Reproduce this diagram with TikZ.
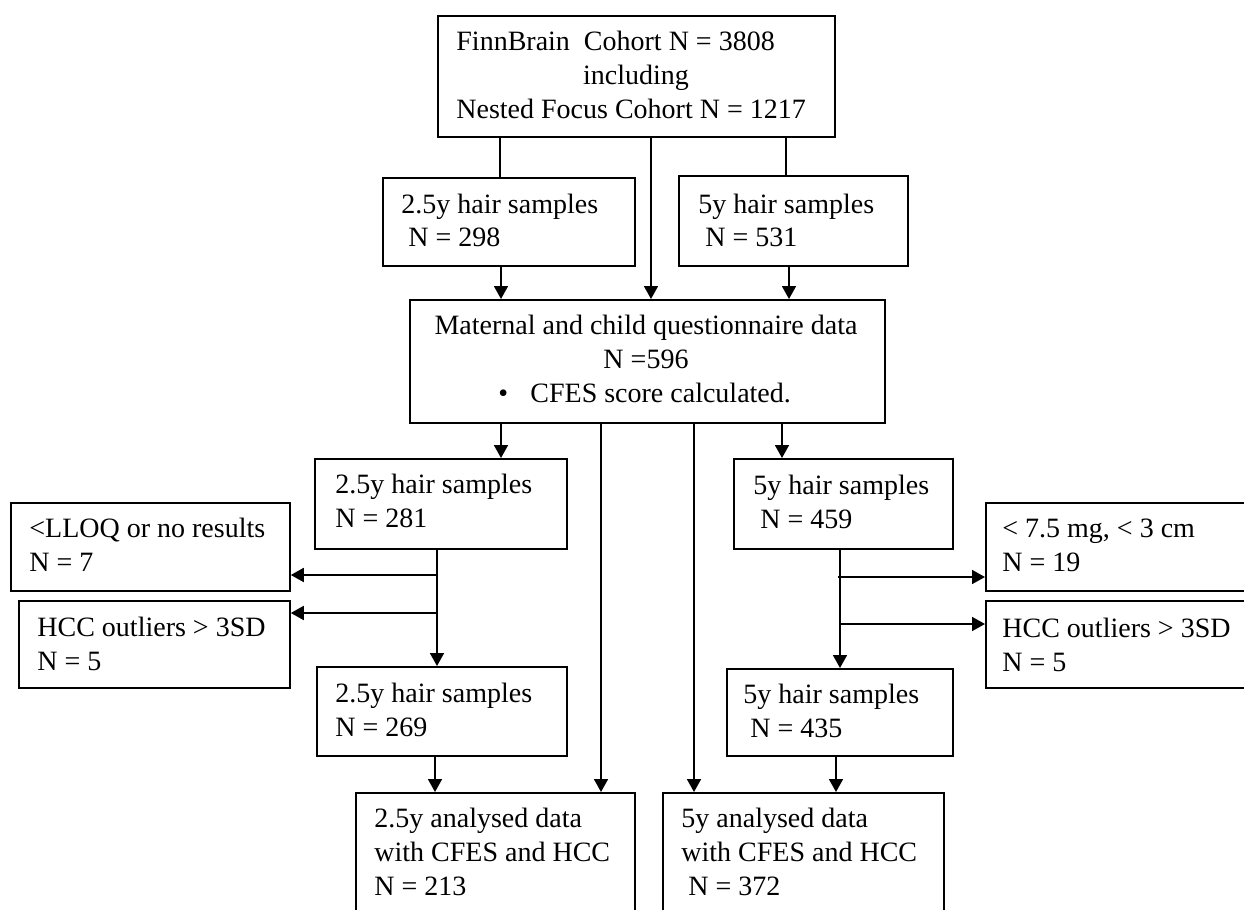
\documentclass[tikz,border=0pt]{standalone}
\usepackage{fontspec}
\setmainfont{Liberation Serif}
\usetikzlibrary{arrows.meta}
\begin{document}
\begin{tikzpicture}[x=0.5pt,y=-0.5pt,
  box/.style={draw, line width=0.9pt, rectangle, inner sep=0pt, anchor=north west},
  txt/.style={inner sep=0pt, anchor=base west, font=\fontsize{14pt}{17pt}\selectfont},
  ln/.style={line width=0.9pt},
  arr/.style={line width=0.9pt, -{Triangle[length=6.5pt,width=7pt]}}]
\useasboundingbox (0,0) rectangle (1244,910);
\clip (0,0) rectangle (1244,910);
% boxes
\node[box, minimum width=198.5pt, minimum height=60.5pt] (top)  at (437,15)  {};
\node[box, minimum width=126pt,   minimum height=44pt]   (h298) at (382,177) {};
\node[box, minimum width=114.5pt, minimum height=45pt]   (h531) at (678,175) {};
\node[box, minimum width=237.5pt, minimum height=61.5pt] (mat)  at (409,299) {};
\node[box, minimum width=126pt,   minimum height=45pt]   (h281) at (314,458) {};
\node[box, minimum width=139.5pt, minimum height=44pt]   (lloq) at (10,502)  {};
\node[box, minimum width=135.5pt, minimum height=43.5pt] (hccL) at (18,600)  {};
\node[box, minimum width=125pt,   minimum height=44.5pt] (h269) at (316,666) {};
\node[box, minimum width=139.5pt, minimum height=70pt]   (an25) at (355,792) {};
\node[box, minimum width=109.5pt, minimum height=45pt]   (h459) at (733,458) {};
\node[box, minimum width=140pt,   minimum height=44pt]   (mg)   at (985,502) {};
\node[box, minimum width=140pt,   minimum height=43.5pt] (hccR) at (985,600) {};
\node[box, minimum width=113pt,   minimum height=43.5pt] (h435) at (726,668) {};
\node[box, minimum width=140.5pt, minimum height=70pt]   (an5)  at (662,792) {};
% texts
\node[txt] (t1a) at (456,50) {FinnBrain\ \ Cohort N = 3808};
\node[txt, anchor=base] (t1b) at (636,84) {including};
\node[txt] (t1c) at (456,118) {Nested Focus Cohort N = 1217};
\node[txt] (t2) at (401,213) {\begin{tabular}[t]{@{}l@{}}2.5y hair samples\\\ N = 298\end{tabular}};
\node[txt] (t3) at (698,213) {\begin{tabular}[t]{@{}l@{}}5y hair samples\\\ N = 531\end{tabular}};
\node[txt, anchor=base] (t4a) at (646,334) {Maternal and child questionnaire data};
\node[txt, anchor=base] (t4b) at (646,368) {N =596};
\node[txt] (t4c) at (498,402) {•};
\node[txt] (t4d) at (530,402) {CFES score calculated.};
\node[txt] (t5) at (335,493) {\begin{tabular}[t]{@{}l@{}}2.5y hair samples\\N = 281\end{tabular}};
\node[txt] (t6) at (29,537) {\begin{tabular}[t]{@{}l@{}}<LLOQ or no results\\N = 7\end{tabular}};
\node[txt] (t7) at (37,636) {\begin{tabular}[t]{@{}l@{}}HCC outliers > 3SD\\N = 5\end{tabular}};
\node[txt] (t8) at (335,702) {\begin{tabular}[t]{@{}l@{}}2.5y hair samples\\N = 269\end{tabular}};
\node[txt] (t9) at (374,827) {\begin{tabular}[t]{@{}l@{}}2.5y analysed data\\with CFES and HCC\\N = 213\end{tabular}};
\node[txt] (t10) at (753,494) {\begin{tabular}[t]{@{}l@{}}5y hair samples\\\ N = 459\end{tabular}};
\node[txt] (t11) at (1002,537) {\begin{tabular}[t]{@{}l@{}}< 7.5 mg, < 3 cm\\N = 19\end{tabular}};
\node[txt] (t12) at (1002,637) {\begin{tabular}[t]{@{}l@{}}HCC outliers > 3SD\\N = 5\end{tabular}};
\node[txt] (t13) at (743,703) {\begin{tabular}[t]{@{}l@{}}5y hair samples\\\ N = 435\end{tabular}};
\node[txt] (t14) at (681,827) {\begin{tabular}[t]{@{}l@{}}5y analysed data\\with CFES and HCC\\\ N = 372\end{tabular}};
% x positions of connectors
\coordinate (c500) at (500,0);
\coordinate (c651) at (651,0);
\coordinate (c786) at (786,0);
\coordinate (c501) at (501,0);
\coordinate (c789) at (789,0);
\coordinate (c601) at (601,0);
\coordinate (c694) at (694,0);
\coordinate (c782) at (782,0);
\coordinate (c437) at (437,0);
\coordinate (c435) at (435,0);
\coordinate (c840) at (840,0);
\coordinate (c836) at (836,0);
\coordinate (b1) at (437,575);
\coordinate (b2) at (437,613);
\coordinate (b3) at (838,577);
\coordinate (b4) at (840,624);
% connectors
\draw[ln]  (top.south -| c500) -- (h298.north -| c500);
\draw[arr] (top.south -| c651) -- (mat.north -| c651);
\draw[ln]  (top.south -| c786) -- (h531.north -| c786);
\draw[arr] (h298.south -| c501) -- (mat.north -| c501);
\draw[arr] (h531.south -| c789) -- (mat.north -| c789);
\draw[arr] (mat.south -| c501) -- (h281.north -| c501);
\draw[arr] (mat.south -| c601) -- (an25.north -| c601);
\draw[arr] (mat.south -| c694) -- (an5.north -| c694);
\draw[arr] (mat.south -| c782) -- (h459.north -| c782);
\draw[arr] (h281.south -| c437) -- (h269.north -| c437);
\draw[arr] (b1) -- (lloq.east |- b1);
\draw[arr] (b2) -- (hccL.east |- b2);
\draw[arr] (h269.south -| c435) -- (an25.north -| c435);
\draw[arr] (h459.south -| c840) -- (h435.north -| c840);
\draw[arr] (b3) -- (mg.west |- b3);
\draw[arr] (b4) -- (hccR.west |- b4);
\draw[arr] (h435.south -| c836) -- (an5.north -| c836);
\end{tikzpicture}
\end{document}
